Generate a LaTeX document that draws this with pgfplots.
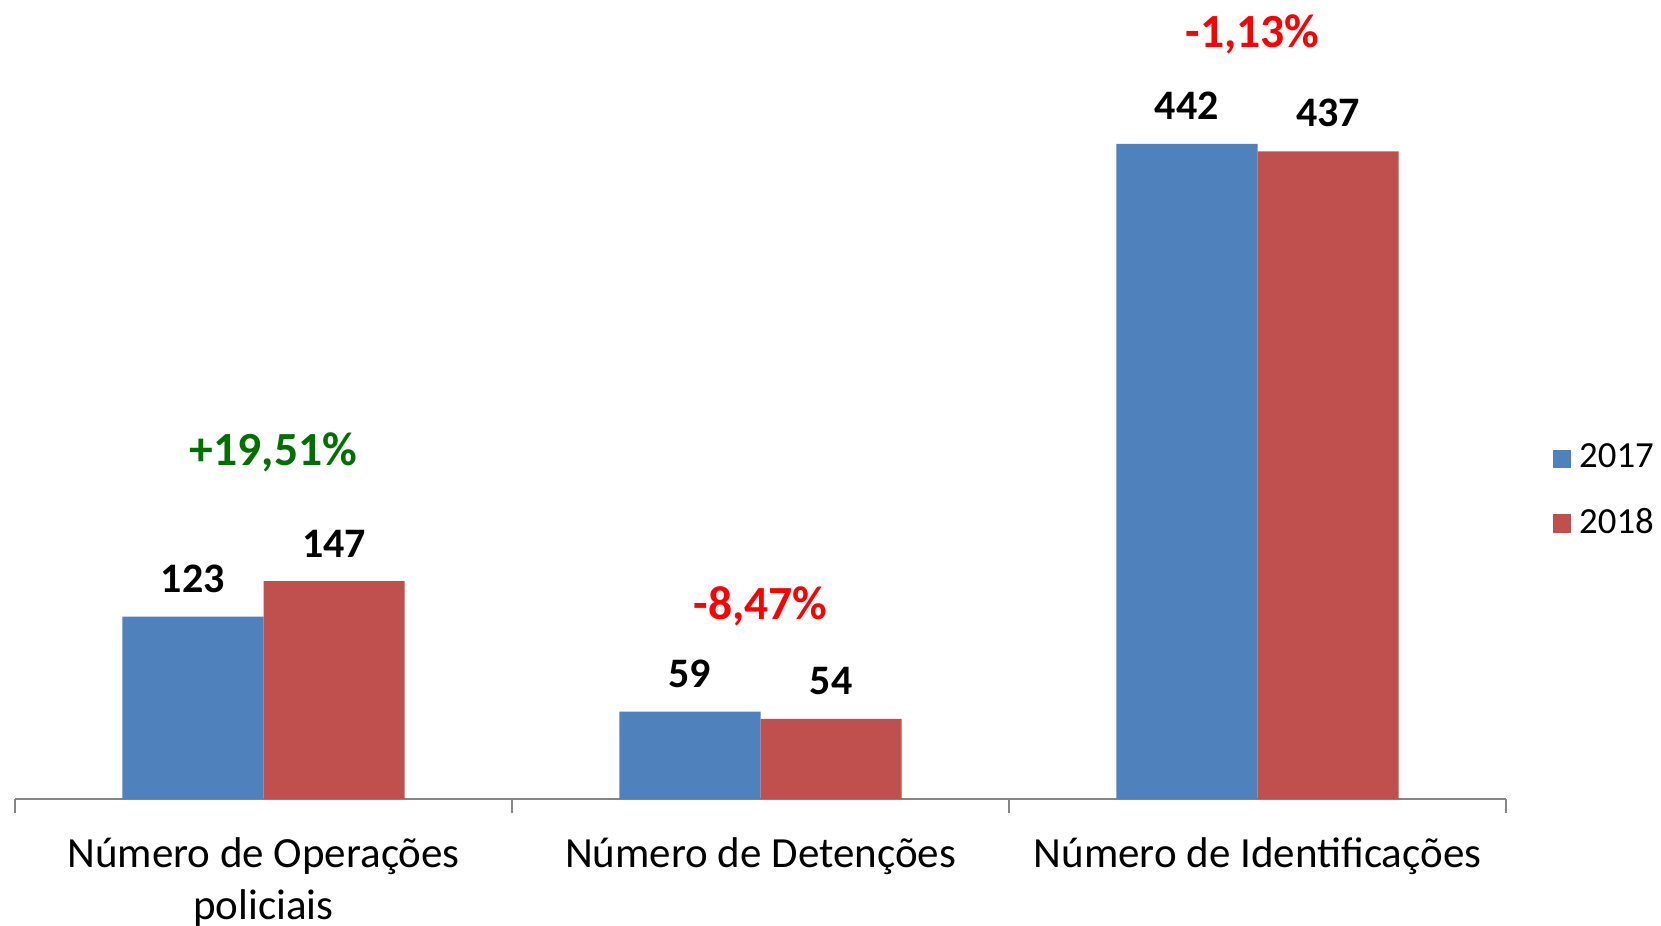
\documentclass[border=0pt]{standalone}
\usepackage{pgfplots}
\pgfplotsset{compat=1.18}
\usepackage{fontspec}
\setmainfont{Carlito}
\definecolor{blu}{HTML}{4F81BD}
\definecolor{rd}{HTML}{C0504D}
\definecolor{grn}{HTML}{007000}
\definecolor{axgray}{HTML}{868686}
\begin{document}
\begin{tikzpicture}
\begin{axis}[
  scale only axis,
  width=372.75pt, height=185.25pt,
  ybar, bar width=0.284,
  xmin=-0.5, xmax=2.5, ymin=0, ymax=500,
  axis x line*=bottom, axis y line=none,
  axis line style={axgray, line width=0.5pt},
  xtick={0,1,2},
  xticklabels={{Número de Operações\\policiais}, {Número de Detenções}, {Número de Identificações}},
  major tick length=0pt,
  minor xtick={-0.5,0.5,1.5,2.5},
  minor tick length=3.5pt,
  tick align=outside,
  minor tick style={axgray, line width=0.5pt},
  xticklabel style={align=center, font=\fontsize{10.75}{12.8}\selectfont, yshift=-6.2pt},
  /pgf/number format/assume math mode=true,
  nodes near coords,
  every node near coord/.append style={font=\fontsize{10.5}{12}\selectfont\bfseries, black, yshift=2.5pt},
  legend style={at={(axis description cs:1,0.415)}, anchor=west, xshift=11.5pt, draw=none,
    font=\fontsize{9.2}{11}\selectfont, row sep=4.5pt, inner sep=0pt,
    /tikz/every even column/.append style={column sep=3.5pt}},
  legend image code/.code={\fill[#1] (0pt,-2.3pt) rectangle (4.6pt,2.3pt);},
  clip=false,
]
\addplot[fill=blu, draw=none, bar shift=-0.142] coordinates {(0,123) (1,59) (2,442)};
\addplot[fill=rd, draw=none, bar shift=0.142] coordinates {(0,147) (1,54) (2,437)};
\legend{2017, 2018}
\node[font=\fontsize{11.9}{14}\selectfont\bfseries, grn] at (axis cs:0.02,234) {+19,51\%};
\node[font=\fontsize{11.9}{14}\selectfont\bfseries, red] at (axis cs:1.0,130) {-8,47\%};
\node[font=\fontsize{11.9}{14}\selectfont\bfseries, red] at (axis cs:1.99,516) {-1,13\%};
\end{axis}
\pgfresetboundingbox
\path (-3.75pt,-31.5pt) rectangle (411.5pt,199.75pt);
\end{tikzpicture}
\end{document}
